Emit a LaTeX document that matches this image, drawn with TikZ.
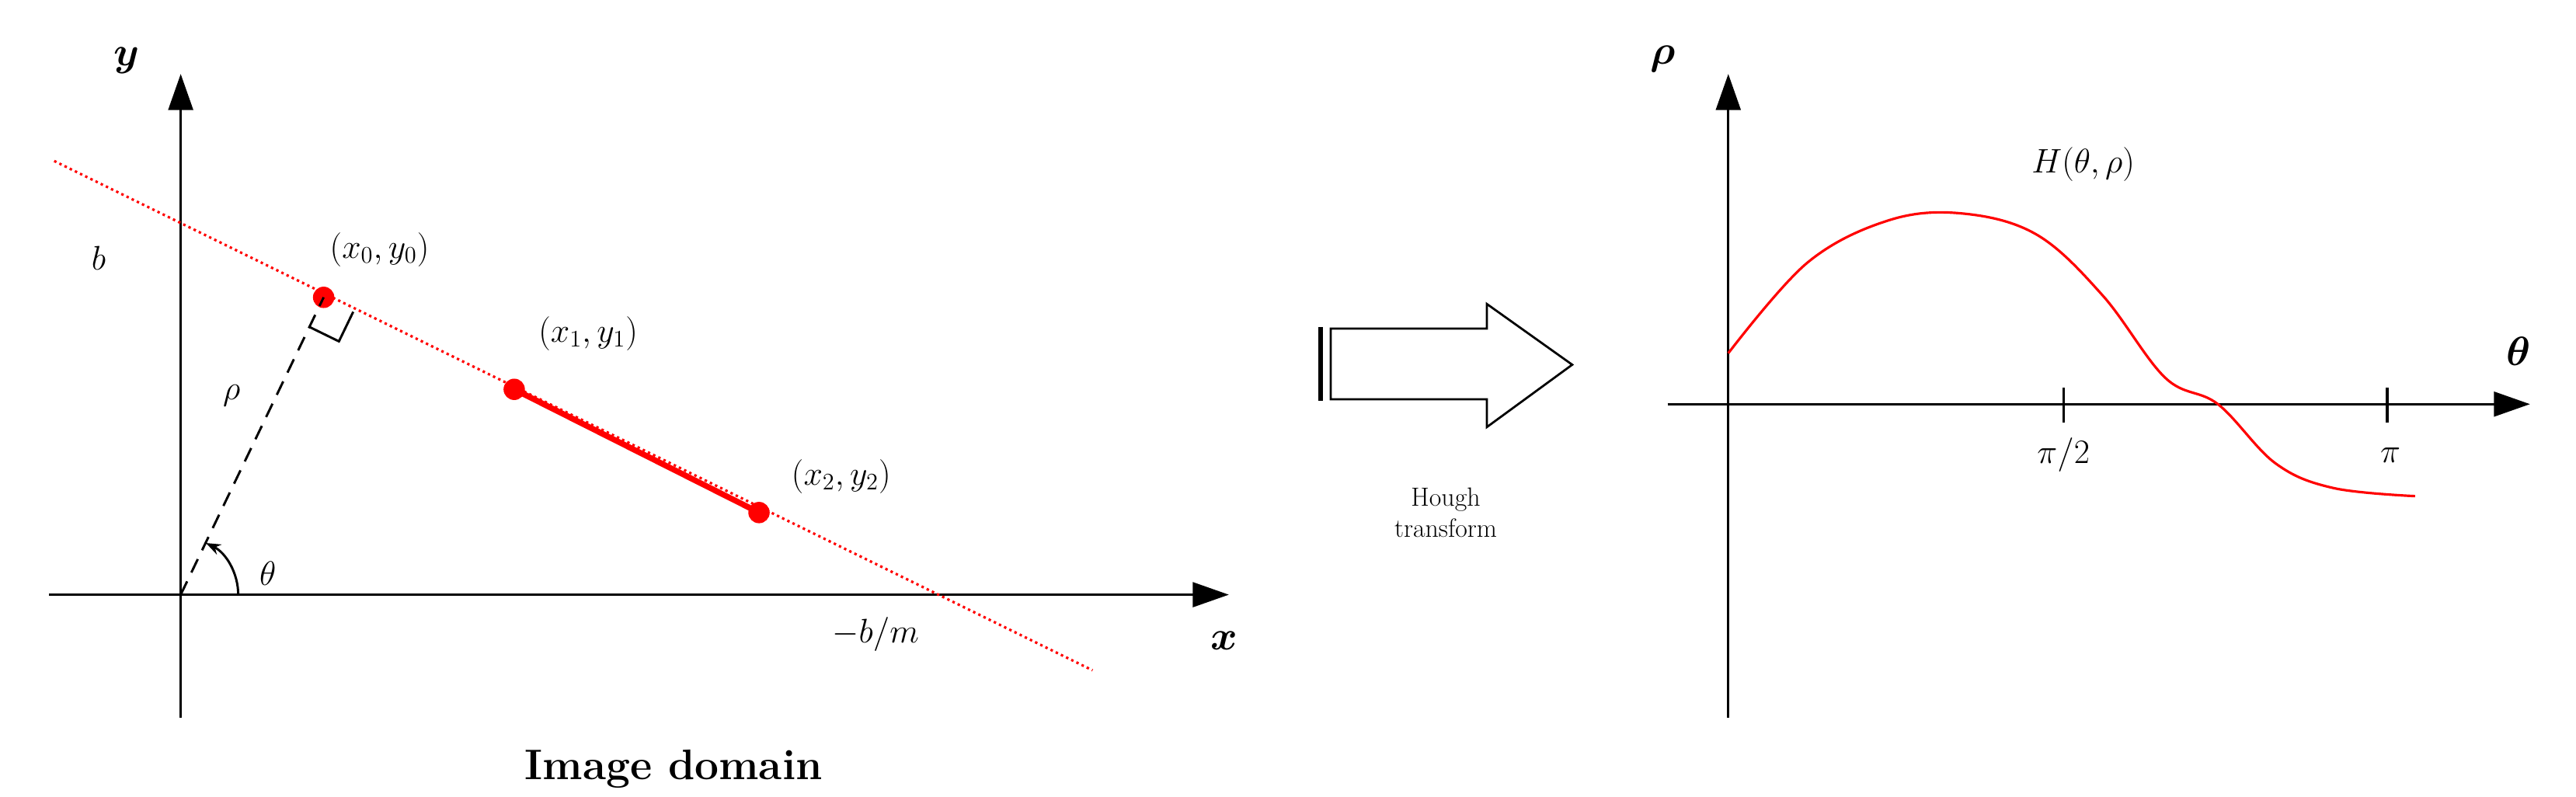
\documentclass[tikz,border=0pt]{standalone}
\usepackage{amsmath}
\usepackage{bm}
\usetikzlibrary{arrows.meta,calc}
\begin{document}
\begin{tikzpicture}[x=1pt,y=-1pt,
  ax/.style={line width=1.6pt,-{Triangle[length=22pt,width=15pt]}},
  lbl/.style={font=\fontsize{21}{24}\selectfont},
  big/.style={font=\fontsize{26}{30}\selectfont\bfseries},
  dot/.style={circle,fill=red,inner sep=0pt,minimum size=13pt}]
\useasboundingbox (0,0) rectangle (1568,485);
% left
\coordinate (O) at (110,362);
\draw[ax] (110,437) -- (110,45);
\draw[ax] (30,362) -- (748,362);
\coordinate (A) at (33,98); \coordinate (B) at (665,408);
\draw[red,dotted,line width=1.5pt] (A) -- (B);
\node[dot] (p0) at (197,181) {};
\node[dot] (p1) at (313,237) {};
\node[dot] (p2) at (462,312) {};
\draw[red,line width=3.5pt] (p1.center) -- (p2.center);
\draw[dashed,line width=1.4pt,dash pattern=on 9pt off 6pt] (O) -- (p0.center);
\draw[line width=1.4pt] ($(p0.center)+(-8.7,18)$) -- ($(p0.center)+(-8.7,18)+(18,8.8)$) -- ($(p0.center)+(18,8.8)$);
\draw[line width=1.4pt,-{Stealth[length=9pt]}] (145,362) arc[start angle=0,end angle=-64,radius=35];
\node[lbl] (l0) at (231,152) {$(x_0,y_0)$};
\node[lbl] (l1) at (358,203) {$(x_1,y_1)$};
\node[lbl] (l2) at (512,290) {$(x_2,y_2)$};
\node[lbl] (lb) at (60,157) {$b$};
\node[lbl] (lr) at (141,241) {$\rho$};
\node[lbl] (lt) at (163,349) {$\theta$};
\node[lbl] (lm) at (533,386) {$-b/m$};
\node[big] (lx) at (745,390) {$\bm{x}$};
\node[big] (ly) at (77,37) {$\bm{y}$};
\node[big] (id) at (410,468) {Image domain};
% arrow
\draw[line width=1.3pt,fill=white] (810,200) -- (905,200) -- (905,185) -- (957,222) -- (905,260) -- (905,243) -- (810,243) -- cycle;
\draw[line width=3pt] (804,199) -- (804,244);
\node[font=\fontsize{16}{19}\selectfont,align=center] (ht) at (880,312) {Hough\\transform};
% right
\draw[ax] (1052,437) -- (1052,45);
\draw[ax] (1015,246) -- (1540,246);
\draw[line width=1.6pt] (1256,236) -- (1256,257);
\draw[line width=1.6pt] (1453,236) -- (1453,257);
\node[lbl] (pi2) at (1256,277) {$\pi/2$};
\node[lbl] (pi) at (1455,277) {$\pi$};
\node[big] (lth) at (1533,214) {$\bm{\theta}$};
\node[big] (lrh) at (1012,36) {$\bm{\rho}$};
\node[lbl] (H) at (1268,100) {$H(\theta,\rho)$};
\draw[red,line width=1.5pt] plot[smooth,tension=0.6] coordinates {(1052,215) (1100,160) (1150,134) (1195,130) (1240,143) (1280,180) (1318,230) (1350,246) (1385,282) (1420,297) (1470,302)};
\end{tikzpicture}
\end{document}
